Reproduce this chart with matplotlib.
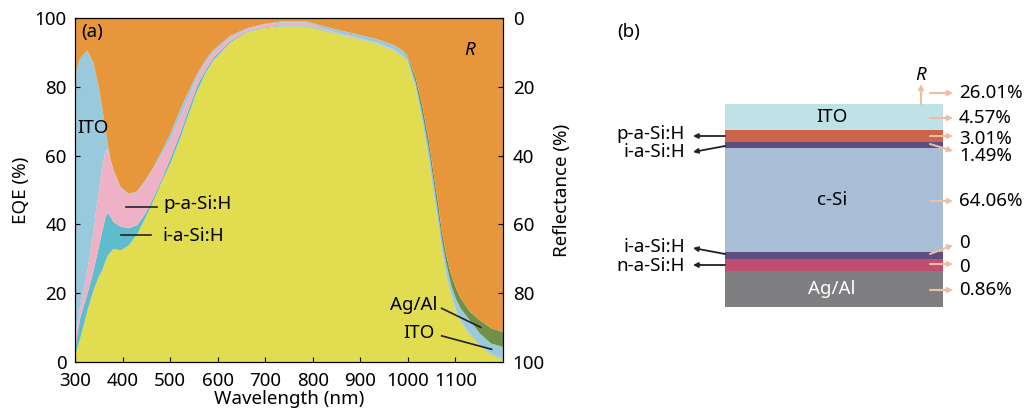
import matplotlib
matplotlib.use("Agg")
import matplotlib.pyplot as plt
import numpy as np

plt.rcParams["font.family"] = ["Noto Sans", "DejaVu Sans"]
plt.rcParams["font.size"] = 13.5

# upper edge of each absorption band in EQE %
wavelength = [300, 310, 325, 338, 349, 356, 363, 368, 373, 380, 395, 412, 430, 447, 464, 482, 500, 521, 535,
              556, 575, 591, 626, 661, 696, 731, 787, 829, 864, 899, 934, 969, 985, 997, 1015, 1029, 1043,
              1053, 1064, 1070, 1080, 1090, 1100, 1110, 1129, 1150, 1174, 1200]
c_si_top = [2.5, 7, 15, 21, 25, 26.7, 29.5, 31, 32, 33, 32.6, 34, 37.4, 42, 47, 52.7, 58, 65.5, 71,
            79, 84.5, 88, 93.1, 96, 97.2, 97.7, 97.7, 96.2, 95, 93.9, 92.6, 90.7, 89.3, 87.8, 80, 70.3, 58.7,
            49, 39.3, 33, 25, 19.5, 15, 12, 8, 5, 2.3, 0.8]
i_si_top = [5, 13, 20, 26.7, 33.5, 38, 42.2, 43.5, 42.6, 40.8, 39.5, 39, 40, 43.3, 48, 53.5, 59.5, 67, 72.5,
            80.5, 85.3, 88.7, 93.5, 96.2, 97.4, 97.9, 97.9, 96.4, 95.1, 94, 92.7, 90.8, 89.4, 87.9, 80.1, 70.4, 58.8,
            49.1, 39.4, 33.1, 25.2, 19.7, 15.2, 12.2, 8.2, 5.2, 2.5, 1]
p_si_top = [8, 16, 26.7, 38.4, 50, 56.8, 61.5, 62, 59.3, 55.6, 50.8, 48.8, 49.5, 52.6, 56.3, 60.5, 65, 71.5, 76,
            83, 87.5, 90.4, 94.6, 96.9, 98.2, 98.8, 98.8, 96.7, 95.3, 94.2, 92.9, 91, 89.5, 88, 80.2, 70.5, 58.9,
            49.2, 39.5, 33.2, 25.3, 19.8, 15.3, 12.3, 8.3, 5.3, 2.6, 1.1]
ito_top = [84, 88.5, 90.7, 87, 80, 74, 68, 63.5, 59.5, 55.8, 51, 49, 49.8, 53, 56.8, 61.6, 66.6, 73.7, 78,
           84, 88.3, 91, 95, 97.2, 98.4, 99.1, 99.1, 97.5, 96.3, 95.2, 94, 92.3, 91, 89.3, 81.5, 72.5, 62,
           52.5, 42, 36, 28.5, 22.5, 18.5, 15.7, 12.3, 8.5, 5.5, 4.5]
ag_top = [84, 88.5, 90.7, 87, 80, 74, 68, 63.5, 59.5, 55.8, 51, 49, 49.8, 53, 56.8, 61.6, 66.6, 73.7, 78,
          84, 88.3, 91, 95, 97.2, 98.4, 99.1, 99.1, 97.5, 96.3, 95.2, 94, 92.3, 91, 89.5, 83, 74.8, 64.5,
          55, 45, 38.5, 31, 25.5, 21.7, 18.7, 14.8, 12.3, 10, 8.8]
band_colors = ["#e2dc50", "#5fbccd", "#efb1c6", "#98c9dc", "#6f9045"]
band_edges = [c_si_top, i_si_top, p_si_top, ito_top, ag_top]

# panel (b) stack, top to bottom
layer_names = ["ITO", "", "", "c-Si", "", "", "Ag/Al"]
layer_heights = [26, 12, 6, 104, 7, 12, 36]
layer_colors = ["#bfe2e6", "#cc644c", "#5d4d80", "#a8bdd6", "#5d4d80", "#bf4e70", "#7f7f82"]
left_labels = ["p-a-Si:H", "i-a-Si:H", "i-a-Si:H", "n-a-Si:H"]
right_labels = ["26.01%", "4.57%", "3.01%", "1.49%", "64.06%", "0", "0", "0.86%"]

W, H = 1025, 412
fig = plt.figure(figsize=(W / 100, H / 100), dpi=100)
ax = fig.add_axes([75 / W, 1 - 362 / H, 428 / W, 344 / H])

wl = np.asarray(wavelength, dtype=float)
lower = np.zeros_like(wl)
for edge, col in zip(band_edges, band_colors):
    upper = np.asarray(edge, dtype=float)
    ax.fill_between(wl, lower, upper, color=col, lw=0)
    lower = upper
ax.fill_between(wl, lower, 100, color="#e8963c", lw=0)

ax.set_xlim(300, 1200)
ax.set_ylim(0, 100)
ax.set_xticks(np.arange(300, 1101, 100))
ax.set_yticks(np.arange(0, 101, 20))
ax.tick_params(axis="x", direction="in", length=3.6, width=0.8, pad=7)
ax.tick_params(axis="y", direction="in", length=3.6, width=0.8, pad=6)
ax.set_xlabel("Wavelength (nm)", labelpad=0)
ax.set_ylabel("EQE (%)", labelpad=3)

ax2 = ax.twinx()
ax2.set_ylim(100, 0)
ax2.set_yticks(np.arange(0, 101, 20))
ax2.tick_params(direction="in", length=3.6, width=0.8, pad=7)
ax2.set_ylabel("Reflectance (%)", labelpad=6)

ax.text(314, 96, "(a)", ha="left", va="center")
ax.text(1130, 90.7, "R", style="italic", ha="center", va="center")
ax.text(304, 68, "ITO", ha="left", va="center")
ax.text(485, 46, "p-a-Si:H", ha="left", va="center")
ax.text(485, 36.6, "i-a-Si:H", ha="left", va="center")
ax.text(1062, 16.6, "Ag/Al", ha="right", va="center")
ax.text(1056, 8.5, "ITO", ha="right", va="center")
ax.plot([408, 472], [45, 45], color="#222222", lw=1.2)
ax.plot([396, 459], [37, 37], color="#222222", lw=1.2)
ax.plot([1071, 1153], [15.6, 10.1], color="#222222", lw=1.2)
ax.plot([1071, 1176], [7.6, 3.7], color="#222222", lw=1.2)

# panel (b) in pixel coordinates
bx = fig.add_axes([0, 0, 1, 1], facecolor="none")
bx.set_xlim(0, W)
bx.set_ylim(H, 0)
bx.axis("off")
bx.text(617, 32, "(b)", va="center")

y = 104
for name, h, col in zip(layer_names, layer_heights, layer_colors):
    bx.bar(725, h, width=218, bottom=y, align="edge", color=col, lw=0)
    if name:
        bx.text(832, y + h / 2, name, ha="center", va="center",
                color="white" if name == "Ag/Al" else "black")
    y += h

dark = dict(arrowstyle="-|>", color="#222222", lw=1.3, mutation_scale=7, shrinkA=0, shrinkB=0)
pale = dict(arrowstyle="-|>", color="#efbd9f", lw=1.5, mutation_scale=7, shrinkA=0, shrinkB=0)

left_text_y = [134, 152, 247, 266]
left_tip_y = [136, 152, 248, 265]
left_base_y = [136, 146, 254, 265]
for lab, ty, tip, base in zip(left_labels, left_text_y, left_tip_y, left_base_y):
    bx.text(685, ty, lab, ha="right", va="center")
    bx.annotate("", xy=(693, tip), xytext=(725, base), arrowprops=dark)

right_text_y = [93, 118, 139, 156, 201, 243, 267, 290]
start_y = [93, 118, 136, 144, 201, 254, 264, 290]
end_y = [93, 118, 136, 151, 201, 245, 264, 290]
for lab, ty, sy, ey in zip(right_labels, right_text_y, start_y, end_y):
    bx.text(959, ty, lab, ha="left", va="center")
    bx.annotate("", xy=(953, ey), xytext=(930, sy), arrowprops=pale)

bx.annotate("", xy=(921, 84), xytext=(921, 104), arrowprops=pale)
bx.text(921, 75, "R", style="italic", ha="center", va="center")

fig.savefig("out.png", dpi=100)
plt.close(fig)
